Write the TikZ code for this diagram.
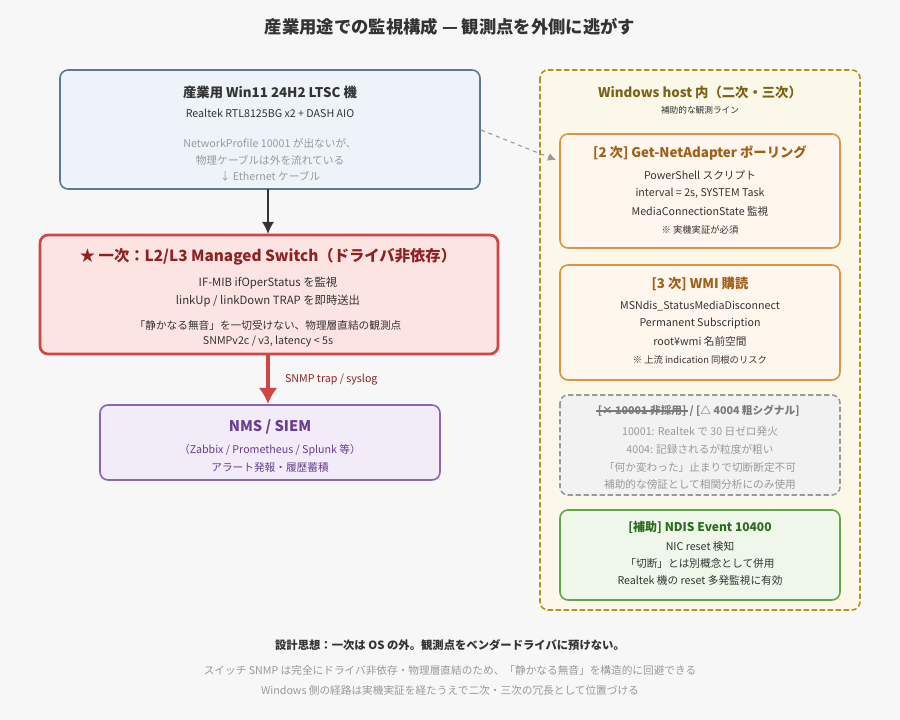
\documentclass[tikz,border=0pt]{standalone}
\usepackage{fontspec}
\setmainfont{Noto Sans CJK JP}
\usetikzlibrary{positioning,arrows.meta}
\definecolor{bluefill}{HTML}{EEF3FA}
\definecolor{blueline}{HTML}{5E7894}
\definecolor{redfill}{HTML}{FCE4E2}
\definecolor{redline}{HTML}{D04545}
\definecolor{redtext}{HTML}{8E2222}
\definecolor{purfill}{HTML}{F2ECF8}
\definecolor{purline}{HTML}{8D63B3}
\definecolor{purtext}{HTML}{6A3C92}
\definecolor{olfill}{HTML}{FBF8E9}
\definecolor{olline}{HTML}{B39224}
\definecolor{oltext}{HTML}{7A6418}
\definecolor{orfill}{HTML}{FFF7EE}
\definecolor{orline}{HTML}{DA9542}
\definecolor{ortext}{HTML}{A0601A}
\definecolor{grfill}{HTML}{F2F2F2}
\definecolor{grline}{HTML}{9A9A9A}
\definecolor{gntext}{HTML}{2E6B22}
\definecolor{gnfill}{HTML}{EEF7EA}
\definecolor{gnline}{HTML}{62A64C}
\definecolor{txt}{HTML}{333333}
\definecolor{soft}{HTML}{999999}
\begin{document}
\begin{tikzpicture}[x=0.75pt,y=-0.75pt]
    		\newcommand{\rnd}{6} % corner radius of the boxes
    		
    		% set the styles of boxes and texts
    		\tikzset{
    			box/.style={rounded corners=\rnd, line width=1.2pt},
    			ttl/.style={font=\bfseries\fontsize{10}{12}\selectfont},
    			ln/.style={font=\fontsize{8}{9.5}\selectfont, text=txt},
    			gln/.style={font=\fontsize{8}{9.5}\selectfont, text=soft}
    		}
    		\fill[white!97!black] (0,0) rectangle (900,720);
    	
    		% title
    		\node[font=\bfseries\fontsize{13}{15}\selectfont, text=txt] (title) at (450,27) {産業用途での監視構成 — 観測点を外側に逃がす};
    		
    		% left column
    		% host box
    		\draw[box, fill=bluefill, draw=blueline] (60,70) rectangle (480,189);
    		\node[ttl, text=txt] (host) at (270,92) {産業用 Win11 24H2 LTSC 機};
    		\node[ln] (nic) at (270,113) {Realtek RTL8125BG x2 + DASH AIO};
    		\node[gln] (h1) at (270,143) {NetworkProfile 10001 が出ないが、};
    		\node[gln] (h2) at (270,160) {物理ケーブルは外を流れている};
    		\node[gln] (h3) at (270,176) {↓ Ethernet ケーブル};
    		\coordinate (hostS) at (268,189);
    		\coordinate (hostE) at (481,130);
    		
    		% switch box
    		\draw[box, fill=redfill, draw=redline, line width=2pt] (40,235) rectangle (498,354);
    		\node[ttl, text=redtext, font=\bfseries\fontsize{11.5}{13}\selectfont] (sw) at (268,257) {★ 一次：L2/L3 Managed Switch（ドライバ非依存）};
    		\node[ln, font=\fontsize{8.5}{10}\selectfont] (s1) at (268,283) {IF-MIB ifOperStatus を監視};
    		\node[ln, font=\fontsize{8.5}{10}\selectfont] (s2) at (268,301) {linkUp / linkDown TRAP を即時送出};
    		\node[ln] (s3) at (268,325) {「静かなる無音」を一切受けない、物理層直結の観測点};
    		\node[ln] (s4) at (268,342) {SNMPv2c / v3, latency < 5s};
    		\coordinate (swN) at (268,234);
    		\coordinate (swS) at (268,355);
    		
    		% nms box
    		\draw[box, fill=purfill, draw=purline] (100,405) rectangle (440,480);
    		\node[ttl, text=purtext, font=\bfseries\fontsize{11}{13}\selectfont] (nms) at (270,427) {NMS / SIEM};
    		\node[ln, text=purtext] (n1) at (270,450) {（Zabbix / Prometheus / Splunk 等）};
    		\node[ln, text=purtext] (n2) at (270,467) {アラート発報・履歴蓄積};
    		\coordinate (nmsN) at (268,404);
    		
    		% arrows
    		\draw[-{Latex[length=9pt,width=9pt]}, line width=1.3pt, txt] (hostS) -- (swN);
    		\draw[-{Latex[length=12pt,width=14pt]}, line width=3pt, redline] (swS) -- (nmsN) node [midway, right=8pt, ln, text=redtext] {SNMP trap / syslog};
    		
    		% right column
    		\draw[box, fill=olfill, draw=olline, dash pattern=on 4pt off 2pt] (540,70) rectangle (860,610);
    		\node[ttl, text=oltext] (win) at (700,92) {Windows host 内（二次・三次）};
    		\node[gln, text=txt, font=\fontsize{6.5}{8}\selectfont] (w1) at (700,110) {補助的な観測ライン};
    		
    		% second
    		\draw[box, fill=orfill, draw=orline] (560,134) rectangle (840,248);
    		\node[ttl, text=ortext] (p2) at (700,153) {[2 次] Get-NetAdapter ポーリング};
    		\node[ln] (p21) at (700,175) {PowerShell スクリプト};
    		\node[ln] (p22) at (700,193) {interval = 2s, SYSTEM Task};
    		\node[ln] (p23) at (700,211) {MediaConnectionState 監視};
    		\node[ln, font=\fontsize{7}{8}\selectfont] (p24) at (700,230) {※ 実機実証が必須};
    		\coordinate (p2W) at (556,160);
    		\draw[-{Latex[length=6pt,width=6pt]}, soft, dashed, line width=0.8pt] (hostE) -- (p2W);
    		
    		% third
    		\draw[box, fill=orfill, draw=orline] (560,265) rectangle (840,380);
    		\node[ttl, text=ortext] (p3) at (700,284) {[3 次] WMI 購読};
    		\node[ln] (p31) at (700,306) {MSNdis\_StatusMediaDisconnect};
    		\node[ln] (p32) at (700,323) {Permanent Subscription};
    		\node[ln] (p33) at (700,341) {root¥wmi 名前空間};
    		\node[ln, font=\fontsize{7}{8}\selectfont] (p34) at (700,360) {※ 上流 indication 同根のリスク};
    		
    		% rejected
    		\draw[box, fill=grfill, draw=grline, dash pattern=on 4pt off 2pt] (560,395) rectangle (840,495);
    		\node[ttl, text=soft!80!black, font=\bfseries\fontsize{8}{10}\selectfont, inner xsep=1pt, anchor=east] (rjA) at (688,411) {[× 10001 非採用]};
    		\node[ttl, text=soft!80!black, font=\bfseries\fontsize{8}{10}\selectfont, inner xsep=1pt, right=0pt of rjA] (rjB) {/ [△ 4004 粗シグナル]};
    		\draw[soft!80!black, line width=0.8pt] (rjA.west) -- (rjA.east);
    		\node[gln] (r1) at (700,431) {10001: Realtek で 30 日ゼロ発火};
    		\node[gln] (r2) at (700,449) {4004: 記録されるが粒度が粗い};
    		\node[gln] (r3) at (700,467) {「何か変わった」止まりで切断断定不可};
    		\node[gln] (r4) at (700,484) {補助的な傍証として相関分析にのみ使用};
    		
    		% ndis
    		\draw[box, fill=gnfill, draw=gnline] (560,510) rectangle (840,600);
    		\node[ttl, text=gntext, font=\bfseries\fontsize{9}{11}\selectfont] (nd) at (700,527) {[補助] NDIS Event 10400};
    		\node[ln] (d1) at (700,546) {NIC reset 検知};
    		\node[ln] (d2) at (700,563) {「切断」とは別概念として併用};
    		\node[ln] (d3) at (700,580) {Realtek 機の reset 多発監視に有効};
    		
    		% footer
    		\node[ttl, text=txt, font=\bfseries\fontsize{8.5}{10}\selectfont] (f0) at (450,645) {設計思想：一次は OS の外。観測点をベンダードライバに預けない。};
    		\node[gln] (f1) at (450,670) {スイッチ SNMP は完全にドライバ非依存・物理層直結のため、「静かなる無音」を構造的に回避できる};
    		\node[gln] (f2) at (450,690) {Windows 側の経路は実機実証を経たうえで二次・三次の冗長として位置づける};
\end{tikzpicture}
\end{document}
